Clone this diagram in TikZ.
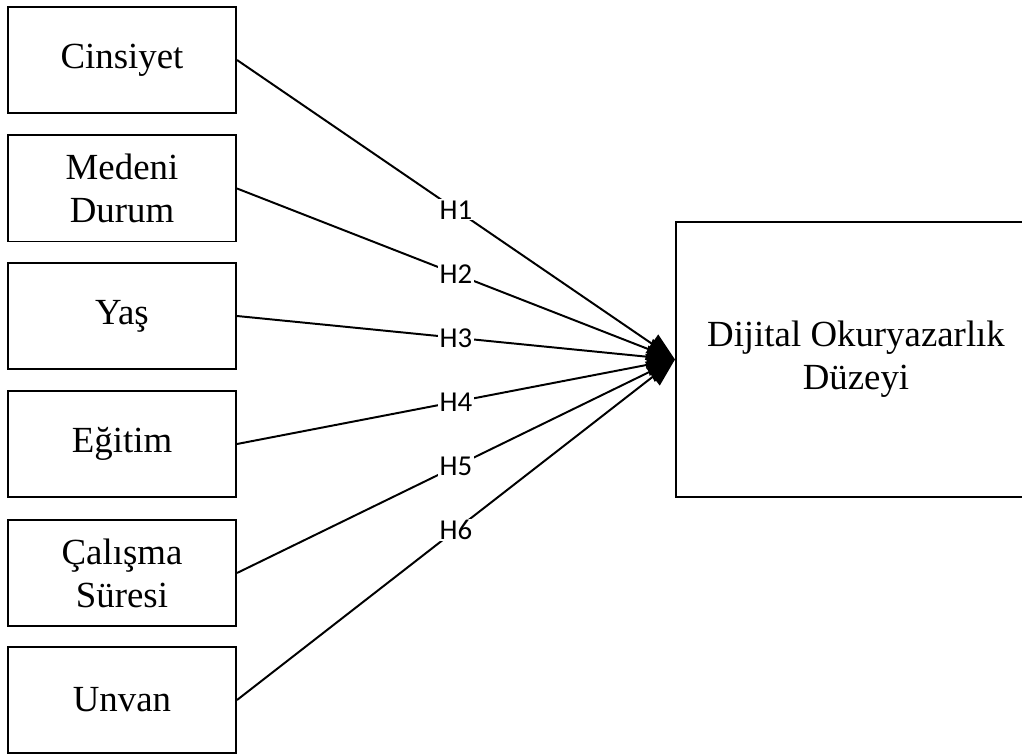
\documentclass[tikz,border=0pt]{standalone}
\usepackage{fontspec}
\setmainfont{Liberation Serif}
\newfontfamily\hypfont{Carlito}
\usetikzlibrary{arrows.meta, positioning}

\begin{document}
\begin{tikzpicture}[x=0.025cm, y=-0.025cm,
        var/.style={rectangle, draw=black, line width=1.4pt, minimum width=5.7cm, minimum height=2.65cm, align=center, inner sep=0pt, font=\fontsize{26.2}{30.7}\selectfont},
        outcome/.style={rectangle, draw=black, line width=1.4pt, minimum width=9.0cm, minimum height=6.875cm, align=center, inner sep=0pt, font=\fontsize{26.2}{30.7}\selectfont},
        line/.style={line width=1.4pt, draw=black, -{Triangle[length=0.7cm, width=0.55cm]}},
        hyp/.style={fill=white, inner sep=1pt, font=\hypfont\fontsize{20.5}{24}\selectfont}
    ]

        \useasboundingbox (0,0) rectangle (1022,754);

        % ----------------------------------------------------
        % INDEPENDENT VARIABLES (Left Column)
        % ----------------------------------------------------
        \node[var] (cins) at (122, 60) {Cinsiyet};
        \node[var] (medeni) at (122, 188.5) {Medeni\\Durum};
        \node[var] (yas) at (122, 316) {Yaş};
        \node[var] (egitim) at (122, 444) {Eğitim};
        \node[var] (calisma) at (122, 573) {Çalışma\\Süresi};
        \node[var] (unvan) at (122, 700) {Unvan};

        % ----------------------------------------------------
        % DEPENDENT VARIABLE (Right)
        % ----------------------------------------------------
        \node[outcome] (dijital) at (856, 359.5) {Dijital Okuryazarlık\\Düzeyi};

        % ----------------------------------------------------
        % HYPOTHESES
        % ----------------------------------------------------
        \draw[line] (cins.east) -- (dijital.west) node[midway, hyp] {H1};
        \draw[line] (medeni.east) -- (dijital.west) node[midway, hyp] {H2};
        \draw[line] (yas.east) -- (dijital.west) node[midway, hyp] {H3};
        \draw[line] (egitim.east) -- (dijital.west) node[midway, hyp] {H4};
        \draw[line] (calisma.east) -- (dijital.west) node[midway, hyp] {H5};
        \draw[line] (unvan.east) -- (dijital.west) node[midway, hyp] {H6};

    \end{tikzpicture}
\end{document}
